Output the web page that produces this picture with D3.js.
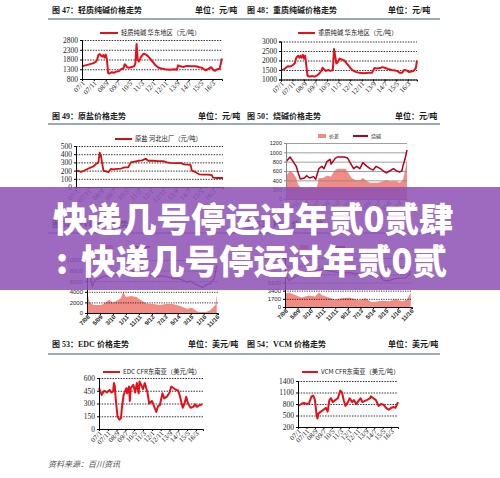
<!DOCTYPE html>
<html>
<head>
<meta charset="utf-8">
<script src="https://cdn.jsdelivr.net/npm/d3@7"></script>
<style>
  body { margin: 0; background: #fff; }
  svg { display: block; }
</style>
</head>
<body>
<div id="page"></div>
<script>
//constants
const W = 500, H = 478;
const serif = "'Liberation Serif','Noto Sans CJK SC',serif";
const sans = "'Liberation Sans','Noto Sans CJK SC',sans-serif";
const cjk = "'Noto Sans CJK SC',sans-serif";

// x tick labels (months counted from the series start)
const monthTicks = [0, 10, 20, 30, 40, 50, 60, 70, 80, 90, 100, 110];
const monthLabels = ["07/1", "07/11", "08/9", "09/7", "10/5", "11/3", "12/1", "12/11", "13/9", "14/7", "15/5", "16/3"];
const pvcTicks = [0, 10, 20, 30, 40, 50, 60, 70, 80, 90, 100];
const pvcLabels = ["7/08", "5/09", "3/10", "1/11", "11/11", "9/12", "7/13", "5/14", "3/15", "1/16", "11/16"];

// fig 47 light soda ash (months from 2007/1)
const lightT = [0,3,6,9,10,12,13,14,15,16,17,18,19,20,21,22,23,25,27,29,31,33,35,36,37,38,40,42,44,45,46,47,48,50,52,54,56,58,60,62,64,66,70,74,78,80,81,83,86,88,92,96,99,101,104,106,108,109,111,112,114,116,118];
const lightPrice = [1450,1500,1550,1600,1620,1700,1850,2050,2080,2000,1950,2030,1900,2050,1800,1100,1080,1150,1120,1180,1200,1300,1350,1560,1500,1400,1380,1420,1450,1600,2600,1800,1700,1950,2100,2050,1950,1800,1650,1500,1400,1350,1300,1280,1300,1280,1500,1450,1420,1470,1450,1450,1400,1380,1250,1300,1380,1400,1250,1220,1300,1320,1850];

// fig 48 dense soda ash
const denseT = [0,2,4,6,8,10,12,13,14,15,16,17,18,19,20,21,22,23,25,27,29,31,33,35,36,37,39,41,43,45,46,47,48,49,51,53,55,57,59,61,63,65,68,72,76,79,81,83,86,88,90,93,96,99,101,103,105,107,109,111,113,115,117,118];
const densePrice = [1500,1520,1600,1700,1680,1750,1850,2100,2200,2250,2150,2250,2150,2300,2100,2250,1700,1200,1150,1180,1150,1200,1300,1450,1620,1550,1450,1500,1450,1500,2600,2250,1850,1900,2100,2050,2000,1850,1700,1550,1450,1400,1350,1330,1350,1350,1600,1580,1600,1650,1620,1550,1500,1470,1450,1350,1350,1500,1480,1400,1420,1450,1600,2000];

// fig 49 raw salt
const saltT = [0,2,4,6,8,10,12,14,16,18,19,20,21,22,24,26,28,30,33,36,38,40,42,44,47,50,53,56,58,62,66,70,73,76,80,84,87,92,93,95,97,99,102,106,109,110,112,118];
const saltPrice = [200,195,185,195,210,225,240,250,280,300,420,380,290,200,190,180,220,215,220,225,235,240,240,300,310,320,325,345,320,320,315,315,300,295,290,290,275,270,200,190,170,155,150,150,145,115,110,110];

// fig 50 caustic soda + spread
const causticT = [0,4,7,10,12,14,18,20,23,27,29,30,32,35,37,40,43,44,48,50,57,60,62,66,69,72,75,79,82,85,88,92,95,98,101,105,108,111,113,114,116,118];
const causticPrice = [800,900,800,700,550,430,450,500,450,480,420,500,650,700,650,800,850,750,870,900,900,880,800,650,700,650,780,700,650,620,700,650,600,560,600,650,600,580,600,700,850,1050];
const spreadT = [0,4,7,10,12,14,20,25,30,32,36,40,44,47,50,58,61,64,68,72,75,79,82,90,95,98,101,108,111,114,116,118];
const spreadValue = [500,600,550,450,300,250,220,250,230,450,450,500,480,600,650,650,550,450,400,400,450,380,350,350,380,400,380,380,350,400,600,850];

// fig 51 (months from 2008/7)
const pvcT = [0,2,4,6,9,12,15,18,21,24,27,29,31,34,37,40,43,46,50,54,58,62,66,70,74,77,80,83,86,89,92,95,98,100];
const pvcPrice = [9000,7500,5000,6200,6500,6800,7000,6700,7500,7000,7800,9000,8200,8000,7800,7600,7200,7000,7200,6800,7000,6800,6500,6500,6200,5800,6000,5500,5200,4800,5300,5600,6500,9000];
const pvcSpreadT = [0,2,5,10,12,17,20,23,26,28,30,34,38,41,46,51,56,61,66,72,77,81,85,88,92,95,99,100];
const pvcSpread = [4000,2000,1500,1500,1600,2500,2000,2300,2800,4000,3000,3200,3000,2500,1800,1700,1500,1700,1700,1300,800,1000,300,200,200,500,1500,3500];

// fig 52
const ethT = [0,3,6,10,15,20,25,30,35,40,45,50,55,60,65,70,75,78,82,86,90,95,98,100];
const ethPrice = [7500,5500,6000,6500,6800,7000,7500,8000,7500,7300,7000,7200,7000,6800,7000,6500,6800,5600,5400,5800,6000,6000,6500,7500];
const ethSpreadT = [0,3,8,13,19,24,27,29,35,40,45,51,59,64,69,77,83,88,93,97,100];
const ethSpread = [2800,3000,2500,2000,2400,2200,3000,2500,2000,1500,1800,2000,1400,1800,1000,1300,1200,1600,1200,1500,3000];

// fig 53 EDC
const edcT = [0,3,6,9,12,14,16,17,18,19,21,23,25,26,28,31,32,34,35,36,39,41,43,45,46,50,52,55,57,60,62,65,67,69,72,74,77,80,82,86,90,92,95,97,99,101,104,107,109,111,114,117];
const edcPrice = [480,400,450,430,460,430,440,540,500,350,150,110,130,250,400,480,420,500,330,480,520,430,540,420,560,470,540,430,300,330,280,200,270,280,420,360,380,430,500,470,450,380,250,300,380,300,250,260,290,260,280,290];

// fig 54 VCM
const vcmT = [0,4,7,11,13,16,18,20,22,23,24,27,30,33,35,37,39,41,44,47,50,52,54,56,59,61,64,66,69,72,74,76,79,81,85,86,89,92,95,98,101,104,107,110,113,115,118];
const vcmPrice = [750,800,830,800,820,1000,1020,900,500,420,550,600,650,700,600,900,950,850,900,950,1150,1100,900,750,850,950,850,900,800,900,950,850,880,900,950,1000,950,900,750,800,780,700,650,700,720,700,850];

const svg = d3.select("#page")
  .append("svg")
  .attr("width", W)
  .attr("height", H);

function monthDate(start, t) {
  return new Date(start[0], start[1] - 1 + t, 1);
}

// one small chart
function drawPanel(p) {
  const g = svg.append("g");
  const x = d3.scaleTime()
    .domain([monthDate(p.start, 0), monthDate(p.start, p.span)])
    .range([p.left, p.right]);
  const y = d3.scaleLinear()
    .domain(p.yDomain)
    .range([p.bottom, p.top]);

  (p.areas || []).forEach(s => {
    g.append("path")
      .datum(d3.zip(s.t, s.v))
      .attr("fill", s.color)
      .attr("d", d3.area()
        .x(d => x(monthDate(p.start, d[0])))
        .y0(y(p.yDomain[0]))
        .y1(d => y(d[1])));
  });

  // grid
  g.append("g")
    .attr("transform", `translate(${p.left},0)`)
    .call(d3.axisLeft(y).tickValues(p.yTicks).tickSize(-(p.right - p.left)).tickFormat(""))
    .call(a => a.select(".domain").remove())
    .selectAll("line")
    .attr("stroke", p.gridColor)
    .attr("stroke-width", 0.8)
    .attr("stroke-dasharray", p.gridDash);

  (p.lines || []).forEach(s => {
    g.append("path")
      .datum(d3.zip(s.t, s.v))
      .attr("fill", "none")
      .attr("stroke", s.color)
      .attr("stroke-width", s.width)
      .attr("stroke-linejoin", "round")
      .attr("d", d3.line()
        .x(d => x(monthDate(p.start, d[0])))
        .y(d => y(d[1])));
  });

  // axes
  const yAxis = g.append("g")
    .attr("transform", `translate(${p.left},0)`)
    .call(d3.axisLeft(y).tickValues(p.yTicks).tickFormat(d3.format("d")).tickSize(2).tickPadding(2));
  yAxis.selectAll("text")
    .attr("font-family", p.font)
    .attr("font-size", p.yFont)
    .attr("fill", "#222");

  const xAxis = g.append("g")
    .attr("transform", `translate(0,${p.bottom})`)
    .call(d3.axisBottom(x)
      .tickValues(p.xTicks.map(t => monthDate(p.start, t)))
      .tickFormat((d, i) => p.xLabels[i])
      .tickSize(2));
  xAxis.selectAll("text")
    .attr("font-family", p.font)
    .attr("font-size", p.xFont)
    .attr("font-weight", p.xBold ? "bold" : "normal")
    .attr("fill", "#222")
    .attr("text-anchor", "end")
    .attr("y", 3)
    .attr("dy", "0.35em")
    .attr("dx", "-0.2em")
    .attr("transform", "rotate(-45)");
  g.selectAll(".domain, .tick line").attr("stroke", p.axisColor);
  return g;
}

// header row: titles + units + rule
function header(y, items, ruleY) {
  items.forEach(d => {
    svg.append("text")
      .attr("x", d[0])
      .attr("y", y)
      .attr("font-family", serif)
      .attr("font-weight", "bold")
      .attr("font-size", 8)
      .attr("fill", "#1a1a1a")
      .text(d[1]);
  });
  svg.append("line")
    .attr("x1", 48).attr("x2", 440)
    .attr("y1", ruleY).attr("y2", ruleY)
    .attr("stroke", "#3d5570")
    .attr("stroke-width", 1.2);
}

function legendLine(x0, x1, y, color, label, size) {
  svg.append("line")
    .attr("x1", x0).attr("x2", x1)
    .attr("y1", y).attr("y2", y)
    .attr("stroke", color)
    .attr("stroke-width", 2);
  if (!label) return;
  svg.append("text")
    .attr("x", x1 + 3)
    .attr("y", y)
    .attr("dy", "0.35em")
    .attr("font-family", cjk)
    .attr("font-size", size)
    .attr("fill", "#222")
    .text(label);
}

function legendRect(x0, y, color, label, size) {
  svg.append("rect")
    .attr("x", x0).attr("y", y - 2)
    .attr("width", 8).attr("height", 4)
    .attr("fill", color);
  if (!label) return;
  svg.append("text")
    .attr("x", x0 + 11)
    .attr("y", y)
    .attr("dy", "0.35em")
    .attr("font-family", cjk)
    .attr("font-size", size)
    .attr("fill", "#222")
    .text(label);
}

const red = "#e3111b";
const pink = "#f38b85";
const purple = "#8a1f7c";

// row 1
header(13, [[52, "图 47：轻质纯碱价格走势"], [195, "单位：元/吨"], [247, "图 48：重质纯碱价格走势"], [388, "单位：元/吨"]], 19);
legendLine(100, 118, 33, red, "轻质纯碱 华东地区（元/吨）", 6.3);
legendLine(298, 315, 33, red, "重质纯碱 华东地区（元/吨）", 6.3);

drawPanel({
  left: 82, right: 222, top: 40, bottom: 79,
  start: [2007, 1], span: 118.6,
  yDomain: [800, 2800], yTicks: [800, 1300, 1800, 2300, 2800],
  xTicks: monthTicks, xLabels: monthLabels,
  font: serif, yFont: 7.5, xFont: 7,
  gridColor: "#333", gridDash: "1.5,1.2", axisColor: "#000",
  lines: [{ t: lightT, v: lightPrice, color: red, width: 2 }]
});

drawPanel({
  left: 281, right: 417, top: 41.5, bottom: 79.5,
  start: [2007, 1], span: 118.6,
  yDomain: [1000, 3000], yTicks: [1000, 1500, 2000, 2500, 3000],
  xTicks: monthTicks, xLabels: monthLabels,
  font: serif, yFont: 7.5, xFont: 7,
  gridColor: "#333", gridDash: "1.5,1.2", axisColor: "#000",
  lines: [{ t: denseT, v: densePrice, color: red, width: 2 }]
});

// row 2
header(119, [[52, "图 49：原盐价格走势"], [198, "单位：元/吨"], [247, "图 50：烧碱价格走势"], [395, "单位：元/吨"]], 124);
legendLine(115, 132, 139, "#cc1111", "原盐 河北出厂（元/吨）", 6.3);
legendRect(318, 136, pink, "价差", 5);
legendLine(353, 368, 136, "#b3001e", "烧碱", 5);

drawPanel({
  left: 76, right: 223, top: 146, bottom: 187,
  start: [2007, 1], span: 118.6,
  yDomain: [0, 500], yTicks: [0, 100, 200, 300, 400, 500],
  xTicks: monthTicks, xLabels: monthLabels,
  font: serif, yFont: 7.5, xFont: 7,
  gridColor: "#333", gridDash: "1.5,1.2", axisColor: "#000",
  lines: [{ t: saltT, v: saltPrice, color: "#cc1111", width: 1.8 }]
});

drawPanel({
  left: 286, right: 407, top: 143, bottom: 199,
  start: [2007, 1], span: 118.6,
  yDomain: [0, 1200], yTicks: [0, 200, 400, 600, 800, 1000, 1200],
  xTicks: monthTicks, xLabels: monthLabels,
  font: sans, yFont: 5.5, xFont: 5.5,
  gridColor: "#bbb", gridDash: null, axisColor: "#888",
  areas: [{ t: spreadT, v: spreadValue, color: pink }],
  lines: [{ t: causticT, v: causticPrice, color: "#b3001e", width: 1.5 }]
});

// row 3 (mostly hidden by the banner)
header(227, [[52, "图 51：PVC 价格走势"], [247, "图 52：PVC 价格走势"]], 233);
legendRect(105, 247, pink, null, 5.5);
legendLine(135, 150, 247, purple, null, 5.5);
legendRect(300, 247, pink, null, 5.5);
legendLine(330, 345, 247, purple, null, 5.5);

drawPanel({
  left: 87, right: 218, top: 260, bottom: 313,
  start: [2008, 7], span: 101,
  yDomain: [0, 10000], yTicks: [0, 2000, 4000, 6000, 8000, 10000],
  xTicks: pvcTicks, xLabels: pvcLabels, xBold: true,
  font: sans, yFont: 6, xFont: 6,
  gridColor: "#444", gridDash: "1.2,1.2", axisColor: "#000",
  areas: [{ t: pvcSpreadT, v: pvcSpread, color: pink }],
  lines: [{ t: pvcT, v: pvcPrice, color: purple, width: 1.3 }]
});

drawPanel({
  left: 285, right: 412, top: 258, bottom: 307,
  start: [2008, 7], span: 101,
  yDomain: [0, 10200], yTicks: [0, 1700, 3400, 5100, 6800, 8500, 10200],
  xTicks: pvcTicks, xLabels: pvcLabels, xBold: true,
  font: sans, yFont: 6, xFont: 6,
  gridColor: "#444", gridDash: "1.2,1.2", axisColor: "#000",
  areas: [{ t: ethSpreadT, v: ethSpread, color: pink }],
  lines: [{ t: ethT, v: ethPrice, color: purple, width: 1.3 }]
});

// row 4
header(347, [[52, "图 53：EDC 价格走势"], [188, "单位：美元/吨"], [247, "图 54：VCM 价格走势"], [388, "单位：美元/吨"]], 354);
legendLine(103, 120, 372, red, "EDC CFR东南亚（美元/吨）", 6.3);
legendLine(302, 318, 372, red, "VCM CFR东南亚（美元/吨）", 6.3);

drawPanel({
  left: 99, right: 203, top: 378, bottom: 429,
  start: [2007, 1], span: 118.6,
  yDomain: [0, 600], yTicks: [0, 150, 300, 450, 600],
  xTicks: monthTicks, xLabels: monthLabels,
  font: serif, yFont: 7.5, xFont: 7,
  gridColor: "#333", gridDash: "1.5,1.2", axisColor: "#000",
  lines: [{ t: edcT, v: edcPrice, color: red, width: 2 }]
});

drawPanel({
  left: 298, right: 398, top: 381, bottom: 427,
  start: [2007, 1], span: 118.6,
  yDomain: [200, 1400], yTicks: [200, 500, 800, 1100, 1400],
  xTicks: monthTicks, xLabels: monthLabels,
  font: serif, yFont: 7.5, xFont: 7,
  gridColor: "#333", gridDash: "1.5,1.2", axisColor: "#000",
  lines: [{ t: vcmT, v: vcmPrice, color: red, width: 2 }]
});

svg.append("text")
  .attr("x", 48)
  .attr("y", 467)
  .attr("font-family", cjk)
  .attr("font-style", "italic")
  .attr("font-size", 8)
  .attr("fill", "#555")
  .text("资料来源：百川资讯");

// purple banner with headline
svg.append("rect")
  .attr("x", 0).attr("y", 187)
  .attr("width", W).attr("height", 103)
  .attr("fill", "#8d52b6")
  .attr("opacity", 0.86);

const headline = svg.append("g")
  .attr("font-family", cjk)
  .attr("font-weight", 900)
  .attr("font-size", 34.5)
  .attr("fill", "#fff");
headline.append("text")
  .attr("x", 53).attr("y", 232)
  .text("快递几号停运过年贰0贰肆");
const line2 = headline.append("text").attr("y", 273.5);
line2.append("tspan").attr("x", 56).text(":");
line2.append("tspan").attr("x", 81).text("快递几号停运过年贰0贰");
</script>
</body>
</html>
